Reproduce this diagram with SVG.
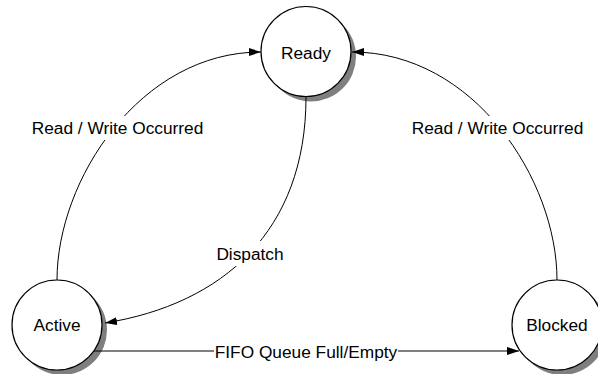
<svg xmlns="http://www.w3.org/2000/svg" width="598" height="374" viewBox="0 0 598 374">
<style>
.shadow{fill:#7f7f7f;stroke:none}
.node{fill:#ffffff;stroke:#000000;stroke-width:1.2}
.t{font-family:"Liberation Sans",Arial,sans-serif;font-size:17.3px;fill:#000000;text-anchor:middle}
.edge{fill:none;stroke:#000000;stroke-width:1}
.lbg{fill:#ffffff;stroke:none}
</style>
<defs>
<marker id="arr" markerUnits="userSpaceOnUse" markerWidth="12" markerHeight="8" refX="12" refY="4" orient="auto">
<path d="M0,0 L12,4 L0,8 z" fill="#000000"/>
</marker>
</defs>
<rect x="0" y="0" width="598" height="374" fill="#ffffff"/>
<g id="node-ready">
<circle class="shadow" cx="311" cy="56.5" r="45"/>
<circle class="node" cx="306" cy="51.5" r="45"/>
<text class="t" x="306" y="58.5">Ready</text>
</g>
<g id="node-active">
<circle class="shadow" cx="62" cy="330" r="45"/>
<circle class="node" cx="57" cy="325" r="45"/>
<text class="t" x="57" y="330.5">Active</text>
</g>
<g id="node-blocked">
<circle class="shadow" cx="562" cy="330" r="45"/>
<circle class="node" cx="557" cy="325" r="45"/>
<text class="t" x="557" y="331">Blocked</text>
</g>
<g id="connectors">
<path class="edge" d="M57,280 C57,180 140,52 261,52" marker-end="url(#arr)"/>
<path class="edge" d="M557,280 C557,180 474,52 352,52" marker-end="url(#arr)"/>
<path class="edge" d="M306,97 C306,231 223,304 105,323" marker-end="url(#arr)"/>
<path class="edge" d="M94,351 L519,351" marker-end="url(#arr)"/>
<rect class="lbg" x="30" y="116" width="175" height="24"/>
<text class="t" x="117.5" y="134">Read / Write Occurred</text>
<rect class="lbg" x="410" y="116" width="175" height="24"/>
<text class="t" x="497.5" y="134">Read / Write Occurred</text>
<rect class="lbg" x="215" y="241" width="70" height="25"/>
<text class="t" x="250" y="260">Dispatch</text>
<rect class="lbg" x="214" y="340" width="184" height="23"/>
<text class="t" x="306" y="358">FIFO Queue Full/Empty</text>
</g>
</svg>
